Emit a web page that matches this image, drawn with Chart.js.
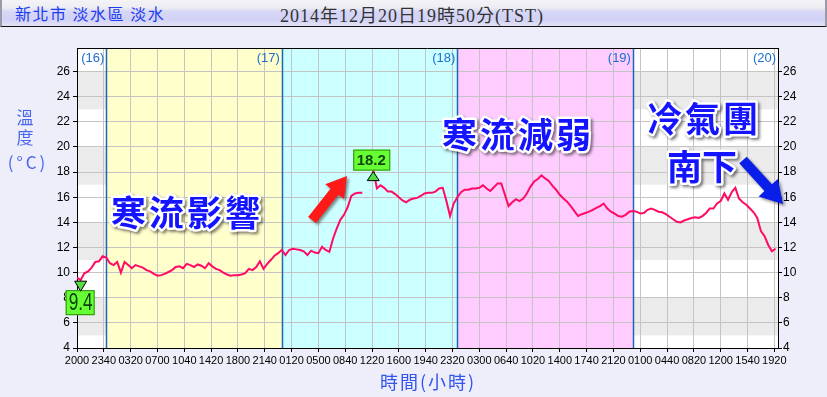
<!DOCTYPE html>
<html lang="zh-Hant">
<head>
  <meta charset="UTF-8" />
  <title>新北市 淡水區 淡水 溫度</title>
  <script src="https://cdn.jsdelivr.net/npm/chart.js"></script>
  <style>
    body {
      margin: 0;
      width: 827px;
      height: 397px;
      overflow: hidden;
      position: relative;
      background: #eeeefa;
      font-family: 'Noto Sans CJK TC', sans-serif;
    }
    .topbar {
      position: absolute;
      left: 0;
      top: 0;
      width: 823px;
      height: 26px;
      border-left: 2px solid #9a9aa8;
      border-right: 2px solid #9a9aa8;
      border-bottom: 1px solid #111;
      background: linear-gradient(to bottom, #f4f4f7 0%, #ececf2 30%, #d6d6f6 45%, #d2d2f6 75%, #e2e2f4 100%);
    }
    .topbar .site {
      position: absolute;
      left: 13px;
      top: 1px;
      color: #1e3cf0;
      font-size: 16px;
      letter-spacing: 1.5px;
    }
    .topbar .time {
      position: absolute;
      left: 278px;
      top: 1px;
      color: #333;
      font-family: 'Liberation Serif', 'Noto Sans CJK TC', serif;
      font-size: 18px;
      letter-spacing: 1px;
    }
    canvas {
      position: absolute;
      left: 0;
      top: 0;
    }
  </style>
</head>
<body>

  <div class="topbar">
    <span class="site">新北市 淡水區 淡水</span>
    <span class="time">2014年12月20日19時50分(TST)</span>
  </div>
  <canvas id="tempChart" width="827" height="397"></canvas>

  <script>
    // readings every 30 min starting 16日 20:00 (minutes from start on the x axis)
    const STEP_MIN = 30;
    const temps = [
      9.6, 9.4, 9.95, 10.1, 10.4, 10.85, 10.9, 11.3,
      11.2, 10.75, 10.6, 10.85, 10.0, 10.85, 10.6, 10.35,
      10.6, 10.5, 10.4, 10.2, 10.1, 9.9, 9.75, 9.8,
      9.9, 10.05, 10.2, 10.45, 10.5, 10.35, 10.7, 10.6,
      10.45, 10.65, 10.55, 10.35, 10.75, 10.5, 10.3, 10.2,
      10.0, 9.85, 9.75, 9.8, 9.8, 9.85, 9.95, 10.3,
      10.2, 10.45, 10.9, 10.3, 10.7, 11.0, 11.35, 11.55,
      11.8, 11.4, 11.8, 11.9, 11.85, 11.8, 11.7, 11.4,
      11.75, 11.6, 11.55, 12.05, 11.8, 11.65, 12.7, 13.5,
      14.2, 14.6, 15.2, 16.1, 16.3, 16.35, 16.35, null,
      null, 18.2, 16.7, 16.95, 16.75, 16.45, 16.45, 16.25,
      16.0, 15.75, 15.6, 15.8, 15.9, 15.95, 16.1, 16.3,
      16.35, 16.35, 16.45, 16.7, 16.75, 15.7, 14.5, 15.5,
      16.0, 16.4, 16.6, 16.6, 16.7, 16.7, 16.75, 16.95,
      16.7, 16.5, 16.8, 17.1, 17.1, 16.2, 15.3, 15.6,
      15.85, 15.7, 15.9, 16.3, 16.85, 17.25, 17.45, 17.75,
      17.5, 17.3, 16.9, 16.6, 16.2, 15.9, 15.65, 15.3,
      14.9, 14.5, 14.65, 14.75, 14.85, 15.0, 15.15, 15.3,
      15.5, 15.1, 14.85, 14.7, 14.5, 14.45, 14.6, 14.85,
      14.9, 14.85, 14.7, 14.75, 15.0, 15.1, 15.0, 14.85,
      14.8, 14.65, 14.45, 14.25, 14.05, 14.0, 14.15, 14.25,
      14.35, 14.4, 14.35, 14.5, 14.75, 15.1, 15.1, 15.5,
      15.7, 16.3, 15.8, 16.4, 16.75, 15.9, 15.6, 15.4,
      15.1, 14.8, 14.35, 13.3, 12.9, 12.2, 11.7, 11.9
    ];

    const TICK_STEP = 220;
    const tickLabels = [
      '2000', '2340', '0320', '0700', '1040', '1420', '1800', '2140', '0120',
      '0500', '0840', '1220', '1600', '1940', '2320', '0300', '0640', '1020',
      '1400', '1740', '2120', '0100', '0440', '0820', '1200', '1540', '1920'
    ];

    const dayNames = ['(16)', '(17)', '(18)', '(19)', '(20)'];
    const dayEdges = [0, 240, 1680, 3120, 4560, 5750];
    const dayFills = [null, '#ffffcc', '#ccffff', '#ffccff', null];
    const greyBands = [[5, 8], [11, 14], [17, 20], [23, 26]];

    const Y_MIN = 4, Y_MAX = 27.88, X_MAX = 5750;

    const points = temps.map((v, i) => ({ x: i * STEP_MIN, y: v }));

    function drawNote(ctx, text, x, y, pitch) {
      ctx.save();
      ctx.font = 'bold 35px "Noto Sans CJK TC"';
      ctx.textAlign = 'left';
      ctx.textBaseline = 'middle';
      ctx.lineJoin = 'round';
      [...text].forEach((ch, i) => {
        const cx = x + i * pitch;
        ctx.save();
        ctx.shadowColor = 'rgba(0,0,0,0.5)';
        ctx.shadowBlur = 3;
        ctx.shadowOffsetX = 2;
        ctx.shadowOffsetY = 2;
        ctx.strokeStyle = '#fff';
        ctx.lineWidth = 5;
        ctx.strokeText(ch, cx, y);
        ctx.restore();
        ctx.fillStyle = '#1414ff';
        ctx.fillText(ch, cx, y);
      });
      ctx.restore();
    }

    function drawArrow(ctx, x1, y1, x2, y2, color, shaft, headW, headL) {
      const a = Math.atan2(y2 - y1, x2 - x1);
      const len = Math.hypot(x2 - x1, y2 - y1);
      ctx.save();
      ctx.translate(x1, y1);
      ctx.rotate(a);
      ctx.shadowColor = 'rgba(0,0,0,0.45)';
      ctx.shadowBlur = 3;
      ctx.shadowOffsetX = 2;
      ctx.shadowOffsetY = 2;
      ctx.fillStyle = color;
      ctx.beginPath();
      ctx.moveTo(0, -shaft / 2);
      ctx.lineTo(len - headL, -shaft / 2);
      ctx.lineTo(len - headL, -headW / 2);
      ctx.lineTo(len, 0);
      ctx.lineTo(len - headL, headW / 2);
      ctx.lineTo(len - headL, shaft / 2);
      ctx.lineTo(0, shaft / 2);
      ctx.closePath();
      ctx.fill();
      ctx.restore();
    }

    const backdrop = {
      id: 'backdrop',
      beforeDraw(chart) {
        const { ctx, chartArea: a, scales: { x, y } } = chart;
        ctx.save();
        ctx.fillStyle = '#fff';
        ctx.fillRect(a.left, a.top, a.right - a.left, a.bottom - a.top);
        ctx.fillStyle = '#ebebeb';
        greyBands.forEach(([lo, hi]) => {
          const top = y.getPixelForValue(Math.min(hi, Y_MAX));
          ctx.fillRect(a.left, top, a.right - a.left, y.getPixelForValue(lo) - top);
        });
        dayFills.forEach((c, i) => {
          if (!c) return;
          const l = x.getPixelForValue(dayEdges[i]);
          ctx.fillStyle = c;
          ctx.fillRect(l, a.top, x.getPixelForValue(dayEdges[i + 1]) - l, a.bottom - a.top);
        });
        ctx.restore();
      },
      beforeDatasetsDraw(chart) {
        const { ctx, chartArea: a, scales: { x } } = chart;
        ctx.save();
        ctx.strokeStyle = '#1f66b8';
        ctx.lineWidth = 1.5;
        dayEdges.slice(1, -1).forEach(t => {
          const px = Math.round(x.getPixelForValue(t)) + 0.5;
          ctx.beginPath();
          ctx.moveTo(px, a.top);
          ctx.lineTo(px, a.bottom);
          ctx.stroke();
        });
        ctx.fillStyle = '#1a6fd0';
        ctx.font = '13px "Liberation Sans", Arial, sans-serif';
        ctx.textAlign = 'right';
        ctx.textBaseline = 'middle';
        dayNames.forEach((d, i) => {
          ctx.fillText(d, x.getPixelForValue(dayEdges[i + 1]) - 2, a.top + 10);
        });
        ctx.strokeStyle = '#000';
        ctx.lineWidth = 1;
        ctx.beginPath();
        ctx.moveTo(a.left, a.top + 0.5);
        ctx.lineTo(a.right, a.top + 0.5);
        ctx.stroke();
        ctx.restore();
      },
      afterDraw(chart) {
        const { ctx, scales: { x, y } } = chart;

        // axis titles
        ctx.save();
        ctx.fillStyle = '#4a66ee';
        ctx.font = '17px "Noto Sans CJK TC"';
        ctx.textAlign = 'center';
        ctx.textBaseline = 'middle';
        ctx.fillText('溫', 25, 118);
        ctx.fillText('度', 25, 138);
        ctx.letterSpacing = '3px';
        ctx.fillText('(°C)', 28, 163);
        ctx.fillStyle = '#3355ee';
        ctx.font = '18px "Noto Sans CJK TC"';
        ctx.letterSpacing = '2px';
        ctx.fillText('時間(小時)', 428, 382);
        ctx.restore();

        drawNote(ctx, '寒流影響', 111, 213, 38);
        drawNote(ctx, '寒流減弱', 442, 135, 38);
        drawNote(ctx, '冷氣團', 647, 119, 38);
        drawNote(ctx, '南下', 667, 167, 35);

        drawArrow(ctx, 312, 220, 347, 176, '#ff1a1a', 10, 24, 20);
        drawArrow(ctx, 743, 160, 783, 204, '#0a1eea', 10, 26, 22);

        // max / min markers from the series
        let hi = -1, lo = -1;
        temps.forEach((v, i) => {
          if (v === null) return;
          if (hi < 0 || v > temps[hi]) hi = i;
          if (lo < 0 || v < temps[lo]) lo = i;
        });

        ctx.save();
        let px = x.getPixelForValue(hi * STEP_MIN);
        let py = y.getPixelForValue(temps[hi]);
        ctx.fillStyle = '#55dd44';
        ctx.strokeStyle = '#000';
        ctx.lineWidth = 1;
        ctx.beginPath();
        ctx.moveTo(px, py + 2);
        ctx.lineTo(px + 6, py + 11);
        ctx.lineTo(px - 6, py + 11);
        ctx.closePath();
        ctx.fill();
        ctx.stroke();
        ctx.fillStyle = '#66ff33';
        ctx.strokeStyle = '#2f8a10';
        ctx.fillRect(px - 20, py - 20, 37, 21);
        ctx.strokeRect(px - 19.5, py - 19.5, 36, 20);
        ctx.fillStyle = '#124412';
        ctx.font = 'bold 15px "Liberation Sans", Arial, sans-serif';
        ctx.textAlign = 'center';
        ctx.textBaseline = 'middle';
        ctx.fillText(temps[hi].toFixed(1), px - 2, py - 9);

        px = x.getPixelForValue(lo * STEP_MIN);
        py = y.getPixelForValue(temps[lo]);
        ctx.fillStyle = '#66ff33';
        ctx.strokeStyle = '#2f8a10';
        ctx.fillRect(px - 15, py + 10, 29, 25);
        ctx.strokeRect(px - 14.5, py + 10.5, 28, 24);
        ctx.fillStyle = '#55dd44';
        ctx.strokeStyle = '#000';
        ctx.beginPath();
        ctx.moveTo(px - 6, py + 1);
        ctx.lineTo(px + 6, py + 1);
        ctx.lineTo(px, py + 11);
        ctx.closePath();
        ctx.fill();
        ctx.stroke();
        ctx.translate(px, py + 23);
        ctx.scale(0.75, 1);
        ctx.fillStyle = '#0c3e0c';
        ctx.font = '23px "Liberation Sans", Arial, sans-serif';
        ctx.fillText(temps[lo].toFixed(1), 0, 0);
        ctx.restore();
      }
    };

    const tickFont = { family: '"Liberation Sans", Arial, sans-serif', size: 12 };

    const yAxis = (pos, width, grid) => ({
      type: 'linear',
      position: pos,
      min: Y_MIN,
      max: Y_MAX,
      afterBuildTicks: s => {
        s.ticks = [];
        for (let v = Y_MIN; v <= Y_MAX; v++) s.ticks.push({ value: v });
      },
      afterFit: s => { s.width = width; },
      ticks: {
        font: tickFont,
        color: '#000',
        padding: pos === 'left' ? 3 : 1,
        callback: v => (v % 2 === 0 ? v : '')
      },
      grid: {
        drawOnChartArea: grid,
        color: '#c4c4c4',
        tickColor: '#000',
        tickLength: 4
      },
      border: { color: '#000', width: 1 }
    });

    new Chart(document.getElementById('tempChart'), {
      type: 'line',
      data: {
        datasets: [{
          data: points,
          borderColor: '#ff0a64',
          borderWidth: 2,
          pointRadius: 0,
          tension: 0,
          spanGaps: false
        }]
      },
      options: {
        responsive: false,
        animation: false,
        devicePixelRatio: 1,
        layout: { padding: { top: 48, left: 0, right: 0, bottom: 0 } },
        plugins: { legend: { display: false }, tooltip: { enabled: false } },
        scales: {
          x: {
            type: 'linear',
            min: 0,
            max: X_MAX,
            afterBuildTicks: s => {
              s.ticks = tickLabels.map((_, i) => ({ value: i * TICK_STEP }));
            },
            afterFit: s => { s.height = 49; },
            ticks: {
              font: { family: '"Liberation Sans", Arial, sans-serif', size: 11 },
              color: '#000',
              autoSkip: false,
              maxRotation: 0,
              minRotation: 0,
              padding: 2,
              callback: (v, i) => tickLabels[i]
            },
            grid: { color: '#c4c4c4', tickColor: '#000', tickLength: 4 },
            border: { color: '#000', width: 1 }
          },
          y: yAxis('left', 77, true),
          y2: yAxis('right', 49, false)
        }
      },
      plugins: [backdrop]
    });
  </script>
</body>
</html>
